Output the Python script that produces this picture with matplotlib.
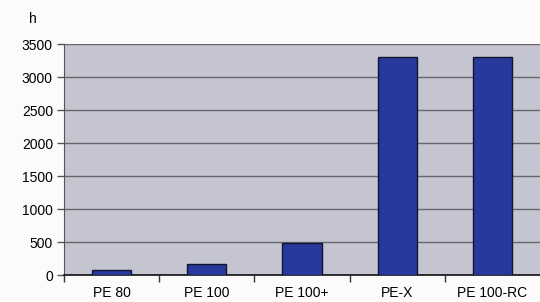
import matplotlib.pyplot as plt
import numpy as np

categories = ["PE 80", "PE 100", "PE 100+", "PE-X", "PE 100-RC"]
hours = [80, 175, 490, 3300, 3300]
yticks = [0, 500, 1000, 1500, 2000, 2500, 3000, 3500]

plt.rcParams["font.family"] = ["Liberation Sans", "DejaVu Sans"]

fig = plt.figure(figsize=(5.4, 3.02), dpi=100)
ax = fig.add_axes([0.1185, 0.089, 0.8815, 0.765])
ax.set_facecolor("#c4c5d0")

x = np.arange(len(categories))
ax.bar(x, hours, width=0.41, color="#27399c", edgecolor="#10152e", linewidth=1.0, zorder=3)

ax.set_xlim(-0.5, len(categories) - 0.5)
ax.set_ylim(0, 3500)
ax.set_yticks(yticks)
ax.set_yticklabels([str(t) for t in yticks], fontsize=10)
ax.yaxis.grid(True, color="#66666c", linewidth=1.0, zorder=1)

# category labels centred, tick marks at category boundaries
ax.set_xticks(x)
ax.set_xticklabels(categories, fontsize=10)
ax.tick_params(axis="x", length=0, pad=8)
ax.set_xticks(np.arange(len(categories)) - 0.5, minor=True)
ax.tick_params(axis="x", which="minor", length=5, color="#333333", width=1)
ax.tick_params(axis="y", length=5, color="#555555", width=1, pad=3)

for side in ["top", "right"]:
    ax.spines[side].set_visible(False)
ax.spines["left"].set_color("#555555")
ax.spines["bottom"].set_color("#111111")
ax.spines["bottom"].set_linewidth(1.2)

fig.text(33 / 540, 1 - 19 / 302, "h", fontsize=10, ha="center", va="center")

fig.savefig("out.png", dpi=100, facecolor="#fbfbfb")
